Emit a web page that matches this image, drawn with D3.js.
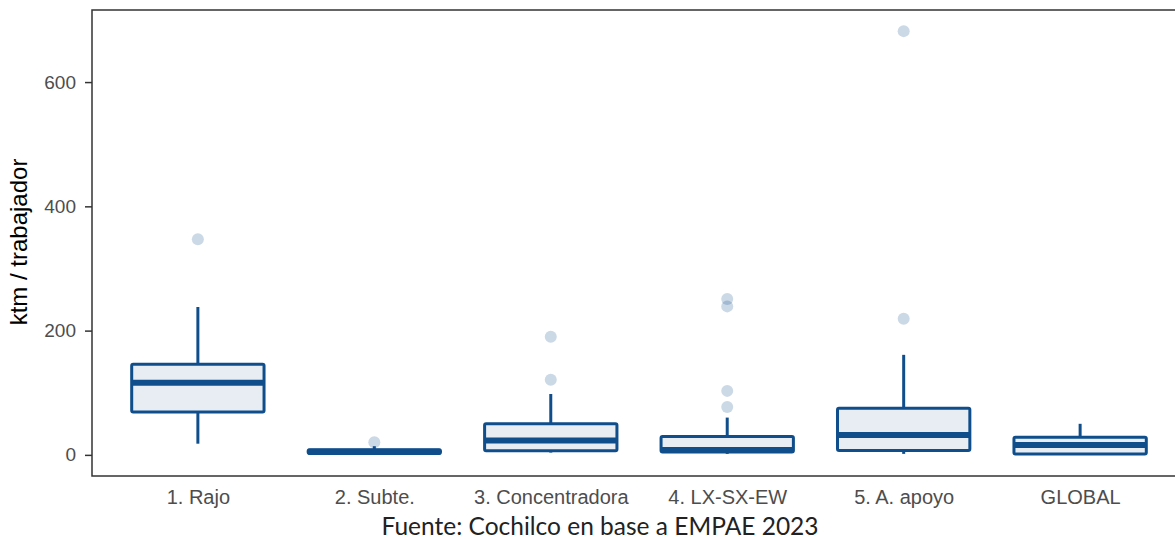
<!DOCTYPE html>
<html>
<head>
<meta charset="utf-8">
<script src="https://cdn.jsdelivr.net/npm/d3@7"></script>
<style>
  body { margin: 0; background: #fff; }
  svg { display: block; }
</style>
</head>
<body>
<svg class="chart" width="1175" height="539"></svg>
<script>
const width = 1175;
const height = 539;

// data (ktm / trabajador)
const categories = ["1. Rajo", "2. Subte.", "3. Concentradora", "4. LX-SX-EW", "5. A. apoyo", "GLOBAL"];
const whiskerLow = [18, 0.5, 3.7, 1.6, 1.6, 0];
const q1 = [69, 2.4, 6.5, 4.8, 7, 1.6];
const median = [116, 5, 23, 8, 32, 16];
const q3 = [146, 8.4, 50, 29.5, 75, 28.5];
const whiskerHigh = [238, 14, 98, 60, 161, 50];
const outliers = [
    [347],
    [20.5],
    [121, 190],
    [77, 103, 239, 251],
    [219, 682],
    []
];
const yTicks = [0, 200, 400, 600];

const panel = { left: 92, top: 10, right: 1186, bottom: 476 };
const mainColor = "#104E8B";

const svg = d3.select(".chart");

const xScale = d3.scalePoint()
    .domain(categories)
    .range([panel.left, panel.right])
    .padding(0.6);

const yScale = d3.scaleLinear()
    .domain([-34, 716])
    .range([panel.bottom, panel.top]);

const boxW = xScale.step() * 0.75;

// y axis
const yAxis = d3.axisLeft(yScale)
    .tickValues(yTicks)
    .tickSize(7)
    .tickPadding(9);

const gy = svg.append("g")
    .attr("transform", `translate(${panel.left},0)`)
    .call(yAxis);
gy.select(".domain").remove();
gy.selectAll(".tick line").attr("stroke", "#333").attr("stroke-width", 1.5);
gy.selectAll(".tick text")
    .attr("fill", "#4d4d4d")
    .style("font-family", "Liberation Sans, Arial, sans-serif")
    .style("font-size", "19px");

// x axis (labels only)
const xAxis = d3.axisBottom(xScale).tickSize(0).tickPadding(14);
const gx = svg.append("g")
    .attr("transform", `translate(0,${panel.bottom})`)
    .call(xAxis);
gx.select(".domain").remove();
gx.selectAll(".tick text")
    .attr("fill", "#4d4d4d")
    .style("font-family", "Liberation Sans, Arial, sans-serif")
    .style("font-size", "20px");

// boxes
const data = categories.map((c, i) => ({
    cat: c, lo: whiskerLow[i], q1: q1[i], med: median[i], q3: q3[i], hi: whiskerHigh[i], out: outliers[i]
}));

const box = svg.append("g").selectAll("g")
    .data(data)
    .enter()
    .append("g")
    .attr("transform", d => `translate(${xScale(d.cat)},0)`);

// whiskers
box.append("line")
    .attr("y1", d => yScale(d.q3)).attr("y2", d => yScale(d.hi))
    .attr("stroke", mainColor).attr("stroke-width", 3);
box.append("line")
    .attr("y1", d => yScale(d.q1)).attr("y2", d => yScale(d.lo))
    .attr("stroke", mainColor).attr("stroke-width", 3);

box.append("rect")
    .attr("x", -boxW / 2)
    .attr("width", boxW)
    .attr("y", d => yScale(d.q3))
    .attr("height", d => yScale(d.q1) - yScale(d.q3))
    .attr("fill", "#e7edf3")
    .attr("stroke", mainColor)
    .attr("stroke-width", 3)
    .attr("rx", 1.5);

box.append("line")
    .attr("x1", -boxW / 2).attr("x2", boxW / 2)
    .attr("y1", d => yScale(d.med)).attr("y2", d => yScale(d.med))
    .attr("stroke", mainColor).attr("stroke-width", 6);

// outliers
box.selectAll("circle")
    .data(d => d.out)
    .enter()
    .append("circle")
    .attr("cx", 0)
    .attr("cy", d => yScale(d))
    .attr("r", 6)
    .attr("fill", mainColor)
    .attr("fill-opacity", 0.22);

// panel border
svg.append("rect")
    .attr("x", panel.left)
    .attr("y", panel.top)
    .attr("width", panel.right - panel.left)
    .attr("height", panel.bottom - panel.top)
    .attr("fill", "none")
    .attr("stroke", "#333")
    .attr("stroke-width", 1.5);

// y title
svg.append("text")
    .attr("transform", "rotate(-90)")
    .attr("x", -242)
    .attr("y", 27)
    .style("text-anchor", "middle")
    .style("font-family", "Liberation Sans, Arial, sans-serif")
    .style("font-size", "24px")
    .attr("fill", "#000")
    .text("ktm / trabajador");

// source
svg.append("text")
    .attr("x", 600)
    .attr("y", 535)
    .style("text-anchor", "middle")
    .style("font-family", "Lato, sans-serif")
    .style("font-size", "24.5px")
    .attr("fill", "#222")
    .text("Fuente: Cochilco en base a EMPAE 2023");
</script>
</body>
</html>
